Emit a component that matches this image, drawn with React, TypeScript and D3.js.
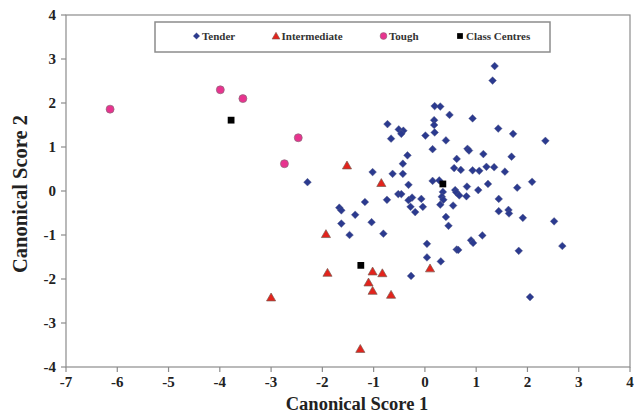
import React from "react";
import * as d3 from "d3";

const tenderX = [-2.29,-0.73,-0.51,-0.42,-0.46,-0.66,0.01,0.19,0.30,0.18,0.18,0.19,0.15,-0.34,-0.43,-1.02,-0.63,-0.43,0.15,0.28,-0.32,0.48,0.41,0.93,1.36,1.32,1.43,1.72,2.35,0.83,0.86,0.62,1.14,1.69,0.57,0.70,0.93,1.06,1.20,1.35,1.56,2.09,1.80,1.23,0.82,0.59,0.61,0.67,0.81,1.04,1.44,0.35,0.33,0.36,0.30,0.55,-0.52,-0.46,-0.25,-0.32,-0.07,-0.28,-0.04,-0.19,-0.74,-1.17,-1.67,-1.63,-1.36,-1.63,-1.04,-1.47,-0.81,0.04,0.04,0.31,-0.27,0.62,0.65,0.90,0.94,1.12,1.83,2.68,2.05,1.44,1.63,1.64,1.91,2.52,0.41,0.46];
const tenderY = [0.20,1.52,1.40,1.37,1.30,1.19,1.26,1.93,1.92,1.61,1.50,1.33,0.95,0.81,0.62,0.43,0.39,0.39,0.23,0.24,0.14,1.73,1.15,1.65,2.84,2.51,1.42,1.30,1.14,0.96,0.92,0.73,0.84,0.78,0.52,0.48,0.47,0.46,0.55,0.54,0.44,0.21,0.075,0.16,0.10,0.02,-0.03,-0.10,-0.12,0.02,-0.18,-0.02,-0.13,-0.20,-0.31,-0.33,-0.07,-0.07,-0.15,-0.21,-0.18,-0.36,-0.36,-0.48,-0.20,-0.25,-0.38,-0.44,-0.54,-0.74,-0.71,-1.00,-0.97,-1.20,-1.51,-1.60,-1.93,-1.33,-1.34,-1.12,-1.18,-1.01,-1.36,-1.25,-2.41,-0.46,-0.43,-0.51,-0.61,-0.69,-0.59,-0.79];

const interX = [-1.52,-0.85,-1.93,-1.90,-1.02,-0.83,-1.10,-1.02,-0.66,-3.00,-1.26,0.10];
const interY = [0.58,0.18,-0.98,-1.86,-1.83,-1.87,-2.08,-2.27,-2.36,-2.42,-3.59,-1.76];

const toughX = [-6.14,-3.99,-3.55,-2.47,-2.74];
const toughY = [1.86,2.30,2.10,1.21,0.62];

const centreX = [-3.78,-1.25,0.35];
const centreY = [1.61,-1.69,0.16];

const xTicks = [-7,-6,-5,-4,-3,-2,-1,0,1,2,3,4];
const yTicks = [-4,-3,-2,-1,0,1,2,3,4];
const legendLabels = ["Tender","Intermediate","Tough","Class Centres"];
const xTitle = "Canonical Score 1";
const yTitle = "Canonical Score 2";

const W = 634, H = 416;
const M = { left: 66, right: 630, top: 15, bottom: 367 };
const serif = "'Liberation Serif', 'Times New Roman', serif";

const BLUE = "#2B3A8F";
const RED = "#E3231C";
const PINK = "#E8338F";

export default function App() {
  const x = d3.scaleLinear().domain([-7, 4]).range([M.left, M.right]);
  const y = d3.scaleLinear().domain([-4, 4]).range([M.bottom, M.top]);

  const diamond = d3.symbol().type(d3.symbolSquare).size(30)()!;
  const tri = d3.symbol().type(d3.symbolTriangle).size(36)()!;
  const circ = d3.symbol().type(d3.symbolCircle).size(50)()!;
  const sq = d3.symbol().type(d3.symbolSquare).size(46)()!;

  const legendItems = [
    { label: legendLabels[0], mx: 196.5, tx: 202, kind: "d" },
    { label: legendLabels[1], mx: 276, tx: 281.5, kind: "t" },
    { label: legendLabels[2], mx: 383.5, tx: 389, kind: "c" },
    { label: legendLabels[3], mx: 460, tx: 466, kind: "s" },
  ];

  const marker = (kind: string, cx: number, cy: number, key: string | number, scale = 1) => {
    if (kind === "d")
      return <path key={key} d={diamond} transform={`translate(${cx},${cy}) rotate(45) scale(${scale})`} fill={BLUE} stroke="#5a5f8a" strokeWidth={0.4} />;
    if (kind === "t")
      return <path key={key} d={tri} transform={`translate(${cx},${cy + 0.8}) scale(${scale})`} fill={RED} stroke="#7a5a50" strokeWidth={0.7} />;
    if (kind === "c")
      return <path key={key} d={circ} transform={`translate(${cx},${cy}) scale(${scale})`} fill={PINK} stroke="#8a6a78" strokeWidth={0.7} />;
    return <path key={key} d={sq} transform={`translate(${cx},${cy}) scale(${scale})`} fill="#000" />;
  };

  return (
    <svg width={W} height={H} style={{ position: "absolute", left: 0, top: 0, background: "#fff" }}>
      <rect x={0} y={0} width={W} height={H} fill="#fff" />
      <rect x={M.left} y={M.top} width={M.right - M.left} height={M.bottom - M.top} fill="none" stroke="#8c8c8c" strokeWidth={1.2} />
      {yTicks.map((t) => (
        <g key={"y" + t}>
          <line x1={M.left - 5} x2={M.left} y1={y(t)} y2={y(t)} stroke="#8c8c8c" strokeWidth={1.2} />
          <text x={M.left - 10} y={y(t)} dy="0.35em" textAnchor="end" fontFamily={serif} fontWeight="bold" fontSize={15} fill="#222">{t}</text>
        </g>
      ))}
      {xTicks.map((t) => (
        <g key={"x" + t}>
          <line x1={x(t)} x2={x(t)} y1={M.bottom} y2={M.bottom + 5} stroke="#8c8c8c" strokeWidth={1.2} />
          <text x={x(t)} y={M.bottom + 20} textAnchor="middle" fontFamily={serif} fontWeight="bold" fontSize={15} fill="#222">{t}</text>
        </g>
      ))}
      <text x={357} y={410} textAnchor="middle" fontFamily={serif} fontWeight="bold" fontSize={18.5} fill="#222">{xTitle}</text>
      <text transform={`translate(27,194) rotate(-90)`} textAnchor="middle" fontFamily={serif} fontWeight="bold" fontSize={20.5} fill="#222">{yTitle}</text>

      <rect x={155} y={22} width={395} height={30} fill="#fff" stroke="#8c8c8c" strokeWidth={1.5} />
      {legendItems.map((it, i) => (
        <g key={"l" + i}>
          {marker(it.kind, it.mx, 36, "m" + i, 0.85)}
          <text x={it.tx} y={36} dy="0.35em" fontFamily={serif} fontWeight="bold" fontSize={11} fill="#333">{it.label}</text>
        </g>
      ))}

      {tenderX.map((v, i) => marker("d", x(v), y(tenderY[i]), "t" + i))}
      {interX.map((v, i) => marker("t", x(v), y(interY[i]), "i" + i))}
      {toughX.map((v, i) => marker("c", x(v), y(toughY[i]), "g" + i))}
      {centreX.map((v, i) => marker("s", x(v), y(centreY[i]), "c" + i))}
    </svg>
  );
}
